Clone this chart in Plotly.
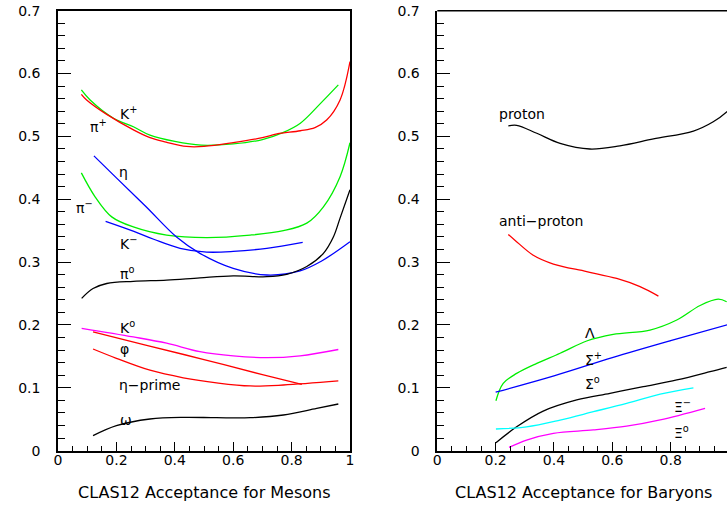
import plotly.graph_objects as go

# ---------------- data: mesons (left panel) ----------------
kplus_x = [0.08, 0.11, 0.19, 0.26, 0.315, 0.40, 0.49, 0.60, 0.70, 0.77, 0.83, 0.90, 0.96]
kplus_y = [0.574, 0.558, 0.529, 0.515, 0.502, 0.492, 0.486, 0.488, 0.495, 0.506, 0.521, 0.553, 0.582]

piplus_x = [0.08, 0.098, 0.167, 0.26, 0.315, 0.37, 0.44, 0.50, 0.60, 0.70, 0.75, 0.83, 0.88, 0.92, 0.966, 1.0]
piplus_y = [0.567, 0.558, 0.535, 0.510, 0.498, 0.491, 0.484, 0.484, 0.490, 0.498, 0.504, 0.509, 0.514, 0.526, 0.558, 0.619]

piminus_x = [0.08, 0.127, 0.184, 0.258, 0.372, 0.509, 0.658, 0.772, 0.852, 0.909, 0.966, 1.0]
piminus_y = [0.442, 0.404, 0.372, 0.356, 0.343, 0.339, 0.343, 0.350, 0.362, 0.388, 0.436, 0.490]

eta_x = [0.123, 0.20, 0.30, 0.406, 0.486, 0.60, 0.715, 0.829, 0.90, 1.0]
eta_y = [0.469, 0.434, 0.389, 0.340, 0.314, 0.290, 0.2795, 0.286, 0.301, 0.3325]

kminus_x = [0.163, 0.26, 0.33, 0.418, 0.509, 0.60, 0.715, 0.838]
kminus_y = [0.365, 0.349, 0.336, 0.322, 0.316, 0.317, 0.322, 0.3315]

pi0_x = [0.081, 0.12, 0.167, 0.258, 0.372, 0.486, 0.60, 0.715, 0.783, 0.852, 0.909, 0.943, 0.966, 1.0]
pi0_y = [0.2424, 0.258, 0.266, 0.2695, 0.2715, 0.275, 0.278, 0.2768, 0.2806, 0.293, 0.314, 0.340, 0.370, 0.415]

k0_x = [0.081, 0.258, 0.372, 0.486, 0.60, 0.715, 0.829, 0.96]
k0_y = [0.1947, 0.181, 0.171, 0.1575, 0.1507, 0.148, 0.151, 0.161]

phi_x = [0.12, 0.30, 0.50, 0.70, 0.835]
phi_y = [0.189, 0.168, 0.145, 0.121, 0.1056]

etap_x = [0.12, 0.20, 0.315, 0.429, 0.543, 0.658, 0.772, 0.96]
etap_y = [0.1618, 0.147, 0.128, 0.116, 0.108, 0.103, 0.1045, 0.111]

omega_x = [0.12, 0.20, 0.315, 0.429, 0.543, 0.658, 0.772, 0.886, 0.96]
omega_y = [0.0239, 0.0398, 0.0504, 0.0531, 0.0525, 0.0525, 0.0568, 0.0674, 0.0743]

# ---------------- data: baryons (right panel) ----------------
proton_x = [0.2435, 0.272, 0.341, 0.421, 0.523, 0.626, 0.741, 0.878, 0.946, 0.992, 1.0]
proton_y = [0.5166, 0.5176, 0.505, 0.489, 0.480, 0.485, 0.496, 0.5086, 0.5234, 0.539, 0.543]

aproton_x = [0.2435, 0.266, 0.329, 0.398, 0.512, 0.615, 0.695, 0.758]
aproton_y = [0.344, 0.335, 0.311, 0.297, 0.285, 0.274, 0.261, 0.246]

lambda_x = [0.201, 0.226, 0.272, 0.341, 0.421, 0.512, 0.603, 0.729, 0.821, 0.901, 0.963, 0.992]
lambda_y = [0.0795, 0.107, 0.123, 0.139, 0.155, 0.1745, 0.185, 0.192, 0.208, 0.231, 0.241, 0.237]

sigp_x = [0.20, 0.40, 0.60, 0.80, 1.0]
sigp_y = [0.093, 0.119, 0.148, 0.175, 0.201]

sig0_x = [0.201, 0.272, 0.363, 0.478, 0.592, 0.706, 0.821, 0.935, 0.992]
sig0_y = [0.0128, 0.038, 0.063, 0.0807, 0.0913, 0.1018, 0.1125, 0.1257, 0.1327]

ximinus_x = [0.201, 0.306, 0.421, 0.535, 0.649, 0.764, 0.878]
ximinus_y = [0.0345, 0.038, 0.0488, 0.062, 0.0754, 0.090, 0.100]

xi0_x = [0.246, 0.306, 0.398, 0.535, 0.649, 0.764, 0.918]
xi0_y = [0.0053, 0.017, 0.0277, 0.033, 0.039, 0.049, 0.0674]

# labels: (text, x, y)
meson_labels = [
    ("K<sup>+</sup>", 0.205, 0.537),
    ("π<sup>+</sup>", 0.103, 0.516),
    ("η", 0.202, 0.444),
    ("π<sup>−</sup>", 0.055, 0.388),
    ("K<sup>−</sup>", 0.205, 0.330),
    ("π<sup>o</sup>", 0.205, 0.283),
    ("K<sup>o</sup>", 0.205, 0.197),
    ("φ", 0.205, 0.162),
    ("η−prime", 0.202, 0.105),
    ("ω", 0.205, 0.049),
]
baryon_labels = [
    ("proton", 0.204, 0.536),
    ("anti−proton", 0.204, 0.365),
    ("Λ", 0.50, 0.187),
    ("Σ<sup>+</sup>", 0.50, 0.146),
    ("Σ<sup>o</sup>", 0.50, 0.107),
    ("Ξ<sup>−</sup>", 0.8036, 0.0716),
    ("Ξ<sup>o</sup>", 0.8036, 0.029),
]

GREEN = "#00ee00"
RED = "#ff0000"
BLUE = "#0000ff"
MAGENTA = "#ff00ff"
CYAN = "#00ffff"
BLACK = "#000000"

FONT = "DejaVu Sans"

fig = go.Figure()

def add(x, y, color, xa="x", ya="y"):
    fig.add_trace(go.Scatter(x=x, y=y, mode="lines", xaxis=xa, yaxis=ya,
                             line=dict(color=color, width=1.3, shape="spline", smoothing=1.0),
                             hoverinfo="skip", showlegend=False))

add(kplus_x, kplus_y, GREEN)
add(piplus_x, piplus_y, RED)
add(piminus_x, piminus_y, GREEN)
add(eta_x, eta_y, BLUE)
add(kminus_x, kminus_y, BLUE)
add(pi0_x, pi0_y, BLACK)
add(k0_x, k0_y, MAGENTA)
add(phi_x, phi_y, RED)
add(etap_x, etap_y, RED)
add(omega_x, omega_y, BLACK)

add(proton_x, proton_y, BLACK, "x2", "y2")
add(aproton_x, aproton_y, RED, "x2", "y2")
add(lambda_x, lambda_y, GREEN, "x2", "y2")
add(sigp_x, sigp_y, BLUE, "x2", "y2")
add(sig0_x, sig0_y, BLACK, "x2", "y2")
add(ximinus_x, ximinus_y, CYAN, "x2", "y2")
add(xi0_x, xi0_y, MAGENTA, "x2", "y2")

W, H = 727, 505
x1_dom = [58 / W, 350 / W]
x2_dom = [437.3 / W, 1.0]
x2_max = (W - 437.3) / 291.7
y_dom = [(H - 450.7) / H, (H - 10.7) / H]

tickfont = dict(family=FONT, size=14, color="black")

def xaxis_cfg(domain, rng, mirror):
    return dict(domain=domain, range=rng, showgrid=False, zeroline=False, automargin=False,
                showline=True, linecolor="black", linewidth=1.5, mirror=mirror,
                ticks="inside", ticklen=9, tickwidth=1, tickcolor="black",
                dtick=0.2, tick0=0, tickfont=tickfont, ticklabelstandoff=-4,
                minor=dict(dtick=0.05, ticks="inside", ticklen=5, tickwidth=1, tickcolor="black"))

def yaxis_cfg(anchor, mirror):
    return dict(domain=y_dom, range=[0, 0.7], anchor=anchor, showgrid=False, zeroline=False,
                automargin=False,
                showline=True, linecolor="black", linewidth=1.5, mirror=mirror,
                ticks="inside", ticklen=13, tickwidth=1, tickcolor="black",
                dtick=0.1, tick0=0, tickfont=tickfont, ticklabelstandoff=13,
                minor=dict(dtick=0.02, ticks="inside", ticklen=7, tickwidth=1, tickcolor="black"))

fig.update_layout(
    width=W, height=H, margin=dict(l=0, r=0, t=0, b=0, autoexpand=False),
    paper_bgcolor="white", plot_bgcolor="white",
    xaxis=dict(**xaxis_cfg(x1_dom, [0, 1], True), anchor="y"),
    yaxis=yaxis_cfg("x", True),
    xaxis2=dict(**xaxis_cfg(x2_dom, [0, x2_max], False), anchor="y2"),
    yaxis2=yaxis_cfg("x2", False),
)

# top border of right frame
fig.add_shape(type="line", xref="x2 domain", yref="y2 domain", x0=0, x1=1, y0=1, y1=1,
              line=dict(color="black", width=1.5))

lab_font = dict(family=FONT, size=14, color="black")
for t, x, y in meson_labels:
    fig.add_annotation(text=t, x=x, y=y, xref="x", yref="y", showarrow=False,
                       xanchor="left", yanchor="middle", font=lab_font)
for t, x, y in baryon_labels:
    fig.add_annotation(text=t, x=x, y=y, xref="x2", yref="y2", showarrow=False,
                       xanchor="left", yanchor="middle", font=lab_font)

fig.add_annotation(text="CLAS12 Acceptance for Mesons", x=0.5, xref="x domain",
                   y=(H - 492) / H, yref="paper", showarrow=False,
                   xanchor="center", yanchor="middle", font=dict(family=FONT, size=16, color="black"))
fig.add_annotation(text="CLAS12 Acceptance for Baryons", x=0.5, xref="x2",
                   y=(H - 492) / H, yref="paper", showarrow=False,
                   xanchor="center", yanchor="middle", font=dict(family=FONT, size=16, color="black"))

fig.write_html("out.html", config={"displayModeBar": False},
               post_script="document.body.style.margin='0';document.body.style.overflow='hidden';")
